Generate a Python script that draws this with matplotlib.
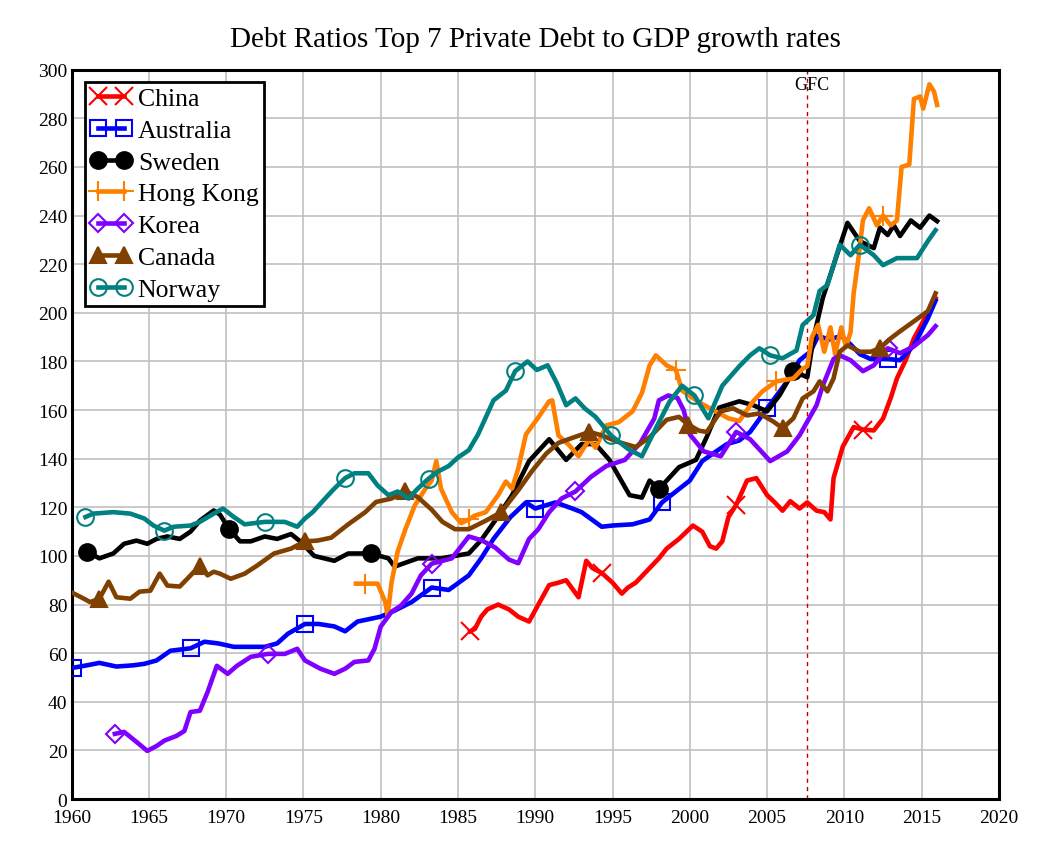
import numpy as np
import matplotlib
matplotlib.use("Agg")
import matplotlib.pyplot as plt

plt.rcParams["font.family"] = ["Liberation Serif", "DejaVu Serif"]

china_years = [1985.8, 1986.1, 1986.5, 1986.9, 1987.6, 1988.3, 1988.9, 1989.6, 1990.2, 1990.9,
               1991.5, 1992.0, 1992.8, 1993.3, 1993.7, 1994.3, 1995.0, 1995.6, 1996.0, 1996.5,
               1997.4, 1998.0, 1998.5, 1999.3, 2000.2, 2000.8, 2001.3, 2001.7, 2002.1, 2002.5,
               2003.0, 2003.7, 2004.3, 2004.7, 2005.0, 2005.5, 2006.0, 2006.5, 2007.1, 2007.6,
               2008.2, 2008.7, 2009.1, 2009.3, 2009.9, 2010.6, 2011.2, 2011.9, 2012.5, 2013.0,
               2013.4, 2014.0, 2014.5, 2015.1, 2015.9]
china_vals = [69, 70, 75, 78, 80, 78, 75, 73, 80, 88,
              89, 90, 83, 98, 95, 93, 89, 84.5, 87, 89,
              95, 99, 103, 107, 112.5, 110, 104, 103, 106, 116,
              121, 131, 132, 128, 125, 122, 118.6, 122.5, 119.5, 122,
              118.6, 118, 115, 132, 145, 153, 152, 151.6, 156.5, 165,
              173, 181, 189.5, 196.5, 206]

australia_years = [1960.1, 1961.0, 1961.8, 1962.9, 1964.0, 1964.7, 1965.5, 1966.4, 1967.7, 1968.6,
                   1969.5, 1970.5, 1971.5, 1972.5, 1973.3, 1974.0, 1975.1, 1976.0, 1977.0, 1977.7,
                   1978.5, 1980.0, 1980.9, 1982.0, 1983.3, 1984.4, 1985.7, 1986.5, 1987.3, 1988.4,
                   1989.4, 1990.0, 1991.3, 1992.4, 1993.0, 1994.3, 1995.0, 1996.3, 1997.4, 1998.2,
                   1999.1, 2000.0, 2000.8, 2001.7, 2002.4, 2003.2, 2003.9, 2005.0, 2006.3, 2007.1,
                   2007.8, 2008.3, 2009.0, 2009.8, 2010.4, 2011.0, 2011.7, 2012.8, 2013.6, 2014.5,
                   2015.4, 2015.9]
australia_vals = [54, 55, 56, 54.5, 55, 55.6, 57, 61, 62, 64.7,
                  64, 62.6, 62.6, 62.6, 64, 68, 72, 72, 71, 69,
                  73, 75, 77.5, 81, 87, 86, 92, 99, 107, 116,
                  122, 119.5, 122, 119.5, 118, 112, 112.5, 113, 115, 122,
                  126.5, 131, 139, 143, 146, 147.5, 151, 160.7, 171.8, 180.5,
                  184, 190.5, 189, 190.5, 187, 183, 181, 181, 180.5, 186.6,
                  197.7, 205]

sweden_years = [1961.0, 1961.8, 1962.7, 1963.4, 1964.2, 1964.9, 1965.5, 1966.2, 1967.0, 1967.7,
                1968.3, 1969.2, 1969.6, 1970.2, 1970.9, 1971.6, 1972.5, 1973.3, 1974.2, 1974.8,
                1975.7, 1977.0, 1977.9, 1979.4, 1980.5, 1980.9, 1982.4, 1983.9, 1985.7, 1986.5,
                1987.4, 1988.5, 1989.6, 1990.9, 1992.0, 1993.0, 1993.9, 1994.8, 1996.1, 1996.9,
                1997.4, 1998.0, 1999.3, 2000.4, 2001.1, 2001.9, 2003.2, 2004.1, 2005.0, 2005.8,
                2006.7, 2007.6, 2008.0, 2008.6, 2009.3, 2010.2, 2011.0, 2011.9, 2012.3, 2012.8,
                2013.2, 2013.6, 2014.3, 2014.9, 2015.5, 2016.0]
sweden_vals = [101.8, 99, 101, 105, 106.3, 105, 107, 108, 107, 110,
               114.5, 118.7, 117, 111, 106, 106, 108, 107, 109, 106,
               100, 98, 101, 101, 99, 95.6, 99, 99, 101, 106.5,
               114.5, 125, 139, 148, 139.5, 146, 146, 139.5, 125, 124,
               131, 127.5, 136.5, 139.5, 149, 161, 163.6, 162, 159.5, 166,
               176, 173.5, 189.5, 206, 219.6, 237, 229.5, 226.6, 235, 232,
               236, 231.6, 238, 235, 240, 237.7]

hongkong_years = [1978.4, 1979.0, 1979.8, 1980.3, 1980.45, 1980.7, 1981.1, 1981.6, 1982.2, 1982.9,
                  1983.3, 1983.6, 1983.9, 1984.6, 1985.2, 1985.7, 1986.1, 1986.8, 1987.6, 1988.1,
                  1988.5, 1988.9, 1989.4, 1990.2, 1990.9, 1991.1, 1991.5, 1992.2, 1992.8, 1993.5,
                  1993.9, 1994.6, 1995.4, 1996.3, 1996.9, 1997.4, 1997.8, 1998.5, 1999.1, 1999.5,
                  2000.5, 2001.5, 2002.5, 2003.2, 2004.1, 2004.7, 2005.6, 2006.7, 2007.3, 2007.6,
                  2007.9, 2008.3, 2008.7, 2009.1, 2009.4, 2009.8, 2010.1, 2010.4, 2010.6, 2010.9,
                  2011.2, 2011.6, 2012.1, 2012.5, 2013.0, 2013.4, 2013.7, 2014.2, 2014.5, 2014.9,
                  2015.1, 2015.5, 2015.8, 2016.0]
hongkong_vals = [88.6, 88.6, 88.6, 81, 75.4, 89, 101.8, 111, 120.7, 127.7,
                 131, 139, 127.7, 118, 113.5, 115, 116.6, 118, 125, 130.6,
                 127.7, 136, 150, 157, 163.6, 164, 149.6, 145.5, 141, 148,
                 144.5, 153.7, 155, 159.5, 167, 178.4, 182.5, 178.4, 176.5, 168,
                 163.6, 160, 156.6, 155.5, 163.6, 167.7, 171.8, 173, 177, 178,
                 190, 195, 184, 194, 183, 194, 186, 192, 208, 222,
                 238, 243, 236, 240, 236, 238, 260, 261, 288, 289,
                 284, 294, 291, 285.5]

korea_years = [1962.8, 1963.4, 1964.2, 1964.9, 1965.5, 1966.0, 1966.8, 1967.3, 1967.7, 1968.3,
               1968.8, 1969.4, 1970.1, 1970.7, 1971.6, 1972.7, 1973.8, 1974.6, 1975.1, 1976.1,
               1977.0, 1977.7, 1978.3, 1979.2, 1979.6, 1980.0, 1980.7, 1981.3, 1982.0, 1982.6,
               1983.3, 1984.6, 1985.7, 1986.5, 1987.4, 1988.3, 1988.9, 1989.6, 1990.2, 1990.9,
               1991.7, 1992.6, 1993.6, 1994.6, 1995.8, 1996.8, 1997.7, 1998.0, 1998.6, 1999.2,
               1999.6, 2000.0, 2000.9, 2002.0, 2003.0, 2003.9, 2005.2, 2006.3, 2007.1, 2008.2,
               2008.6, 2009.3, 2009.7, 2010.4, 2011.2, 2011.9, 2012.8, 2013.6, 2014.5, 2015.4,
               2015.9]
korea_vals = [26.8, 27.6, 23.5, 19.8, 21.8, 24, 26, 28, 35.8, 36.3,
              44, 54.8, 51.5, 54.8, 58.5, 59.7, 59.7, 61.8, 57, 53.6,
              51.5, 53.6, 56.4, 57, 61.8, 70.9, 77, 79.5, 84.5, 92,
              96.8, 99, 108, 106.5, 103.5, 98.5, 97, 107, 111, 118,
              123.6, 126.5, 132.5, 137, 139.5, 146.5, 156.5, 164, 166, 165,
              160, 150, 143, 141, 151, 148, 139, 143, 149.6, 162,
              170, 181, 182.5, 180.5, 176, 178.4, 185.4, 183.4, 186.2, 190.8,
              194.5]

canada_years = [1960.0, 1960.8, 1961.2, 1961.8, 1962.4, 1962.9, 1963.8, 1964.4, 1965.1, 1965.7,
                1966.2, 1967.0, 1967.7, 1968.3, 1968.8, 1969.2, 1969.6, 1970.3, 1971.2, 1972.0,
                1973.1, 1974.2, 1975.1, 1975.9, 1976.8, 1977.9, 1979.0, 1979.7, 1980.7, 1981.6,
                1982.4, 1983.3, 1984.0, 1984.8, 1985.7, 1986.8, 1987.8, 1988.9, 1989.8, 1990.7,
                1991.5, 1992.6, 1993.5, 1994.3, 1995.3, 1996.5, 1997.4, 1998.5, 1999.3, 1999.9,
                2000.6, 2001.1, 2002.0, 2002.8, 2003.7, 2004.5, 2005.4, 2006.0, 2006.7, 2007.3,
                2008.0, 2008.4, 2008.9, 2009.3, 2009.7, 2010.2, 2011.0, 2011.7, 2012.3, 2013.0,
                2013.6, 2014.5, 2015.4, 2015.9]
canada_vals = [85, 82.4, 81, 82.4, 89.4, 83, 82.4, 85.3, 85.7, 92.7,
               87.8, 87.4, 92, 96, 92, 93.5, 92.7, 90.6, 92.7, 96,
               101, 103, 106, 106.3, 107.5, 113, 118, 122.2, 123.6, 126.7,
               124.2, 119, 114, 111, 111, 114.5, 118, 127, 135, 142,
               146.5, 149, 151, 149.6, 147, 144.8, 148.8, 156, 157.2, 154,
               151.5, 151, 159.5, 160.7, 157.8, 158.6, 155.3, 152.5, 156.6, 164.8,
               167.7, 171.8, 167.7, 173, 184, 186.6, 184, 184, 185.4, 189.5,
               192.4, 196.5, 200.7, 208]

norway_years = [1960.9, 1961.4, 1962.7, 1963.8, 1964.7, 1965.3, 1966.0, 1966.6, 1967.7, 1968.3,
                1969.2, 1969.8, 1970.5, 1971.2, 1972.5, 1973.8, 1974.6, 1975.1, 1975.6, 1976.4,
                1977.0, 1977.7, 1978.3, 1979.2, 1979.8, 1980.5, 1981.1, 1981.8, 1982.4, 1983.1,
                1983.7, 1984.4, 1985.0, 1985.7, 1986.3, 1986.8, 1987.3, 1988.1, 1988.7, 1989.5,
                1990.1, 1990.8, 1991.4, 1992.0, 1992.6, 1993.2, 1993.9, 1994.9, 1996.0, 1996.9,
                1997.8, 1998.7, 1999.5, 2000.3, 2001.2, 2002.1, 2003.2, 2003.9, 2004.5, 2005.2,
                2006.0, 2006.9, 2007.3, 2008.0, 2008.4, 2008.9, 2009.3, 2009.7, 2010.4, 2011.0,
                2011.9, 2012.5, 2013.4, 2014.1, 2014.7, 2015.4, 2015.9]
norway_vals = [116, 117.4, 118, 117.4, 115.4, 112.5, 110.4, 112, 112.5, 114,
               117.4, 119.5, 116, 113, 114, 114, 112, 115.4, 118, 123.6,
               127.7, 132, 134, 134, 129, 125, 126.5, 123.6, 127.7, 131.8,
               134.7, 137, 140.5, 143.5, 150, 157, 164, 168, 176, 180,
               176.5, 178.4, 171, 162, 164.8, 160.7, 157.2, 149.6, 144, 141,
               152.5, 163.6, 170, 166, 156.6, 170, 178, 182.5, 185.4, 182.5,
               181.3, 184.5, 195, 199, 209, 211.4, 219.6, 228, 223.7, 228,
               223.7, 219.6, 222.5, 222.5, 222.5, 229.5, 234]

# years where the series symbol sits on the line
china_marks = [1985.8, 1994.3, 2002.8, 2011.2]
australia_marks = [1960.1, 1967.7, 1975.1, 1983.3, 1990.5, 1998.0, 2005.6, 2013.1]
sweden_marks = [1961.0, 1970.2, 1979.4, 1998.0, 2006.7]
hongkong_marks = [1979.0, 1985.7, 1999.1, 2005.6, 2012.5]
korea_marks = [1962.8, 1972.7, 1983.3, 1993.0, 2003.0, 2012.8]
canada_marks = [1962.1, 1968.5, 1974.8, 1981.2, 1987.5, 1993.8, 1999.9, 2006.0, 2012.6]
norway_marks = [1960.9, 1966.3, 1971.9, 1977.5, 1983.1, 1988.7, 1994.5, 2000.0, 2005.6, 2011.2]

gfc_year = 2007.6

series = [
    ("China", china_years, china_vals, china_marks, "#ff0000", "x", True),
    ("Australia", australia_years, australia_vals, australia_marks, "#0000ff", "s", False),
    ("Sweden", sweden_years, sweden_vals, sweden_marks, "#000000", "o", True),
    ("Hong Kong", hongkong_years, hongkong_vals, hongkong_marks, "#ff8000", "+", True),
    ("Korea", korea_years, korea_vals, korea_marks, "#8000ff", "D", False),
    ("Canada", canada_years, canada_vals, canada_marks, "#804000", "^", True),
    ("Norway", norway_years, norway_vals, norway_marks, "#008080", "o", False),
]

fig = plt.figure(figsize=(10.37, 8.54), dpi=100)
ax_box = [0.069, 0.0632, 0.8943, 0.854]
ax = fig.add_axes(ax_box)

handles = []
for z, (name, yrs, vals, marks, color, marker, filled) in enumerate(series):
    yrs = np.asarray(yrs)
    idx = [int(np.argmin(np.abs(yrs - m))) for m in marks]
    size = {"x": 13, "s": 12, "o": 12, "+": 15, "D": 9.5, "^": 12}[marker]
    line, = ax.plot(yrs, vals, color=color, lw=3.3, marker=marker, markevery=idx,
                    markersize=size, markeredgewidth=1.5, markeredgecolor=color,
                    markerfacecolor=color if filled else "none",
                    solid_joinstyle="round", zorder=3 + z, label=name)
    handles.append(line)

ax.axvline(gfc_year, color="#c00000", lw=1.0, ls=(0, (3, 3)), zorder=2)
ax.annotate("GFC", xy=(gfc_year, 292), xytext=(3, 0), textcoords="offset points",
            ha="center", va="baseline", fontsize=13)

ax.set_xlim(1960, 2020)
ax.set_ylim(0, 300)
ax.set_xticks(np.arange(1960, 2021, 5))
ax.set_yticks(np.arange(0, 301, 20))
ax.grid(True, color="#c0c0c0", lw=1.2)
ax.set_axisbelow(True)
ax.tick_params(length=0, labelsize=14)
ax.tick_params(axis="x", pad=7)
ax.tick_params(axis="y", pad=3)
for spine in ax.spines.values():
    spine.set_linewidth(2.2)

fig.text(ax_box[0] + ax_box[2] / 2, 0.953, "Debt Ratios Top 7 Private Debt to GDP growth rates",
         ha="center", va="center", fontsize=21)

leg = ax.legend(handles, [s[0] for s in series],
                loc="upper left", bbox_to_anchor=(0.0146, 0.983), borderaxespad=0,
                fontsize=18.5, numpoints=2, handlelength=1.6, handletextpad=0.25,
                labelspacing=0.34, borderpad=0.2, fancybox=False, framealpha=1,
                edgecolor="black")
leg.get_frame().set_linewidth(2.0)
leg.set_zorder(20)

fig.savefig("out.png", dpi=100)
